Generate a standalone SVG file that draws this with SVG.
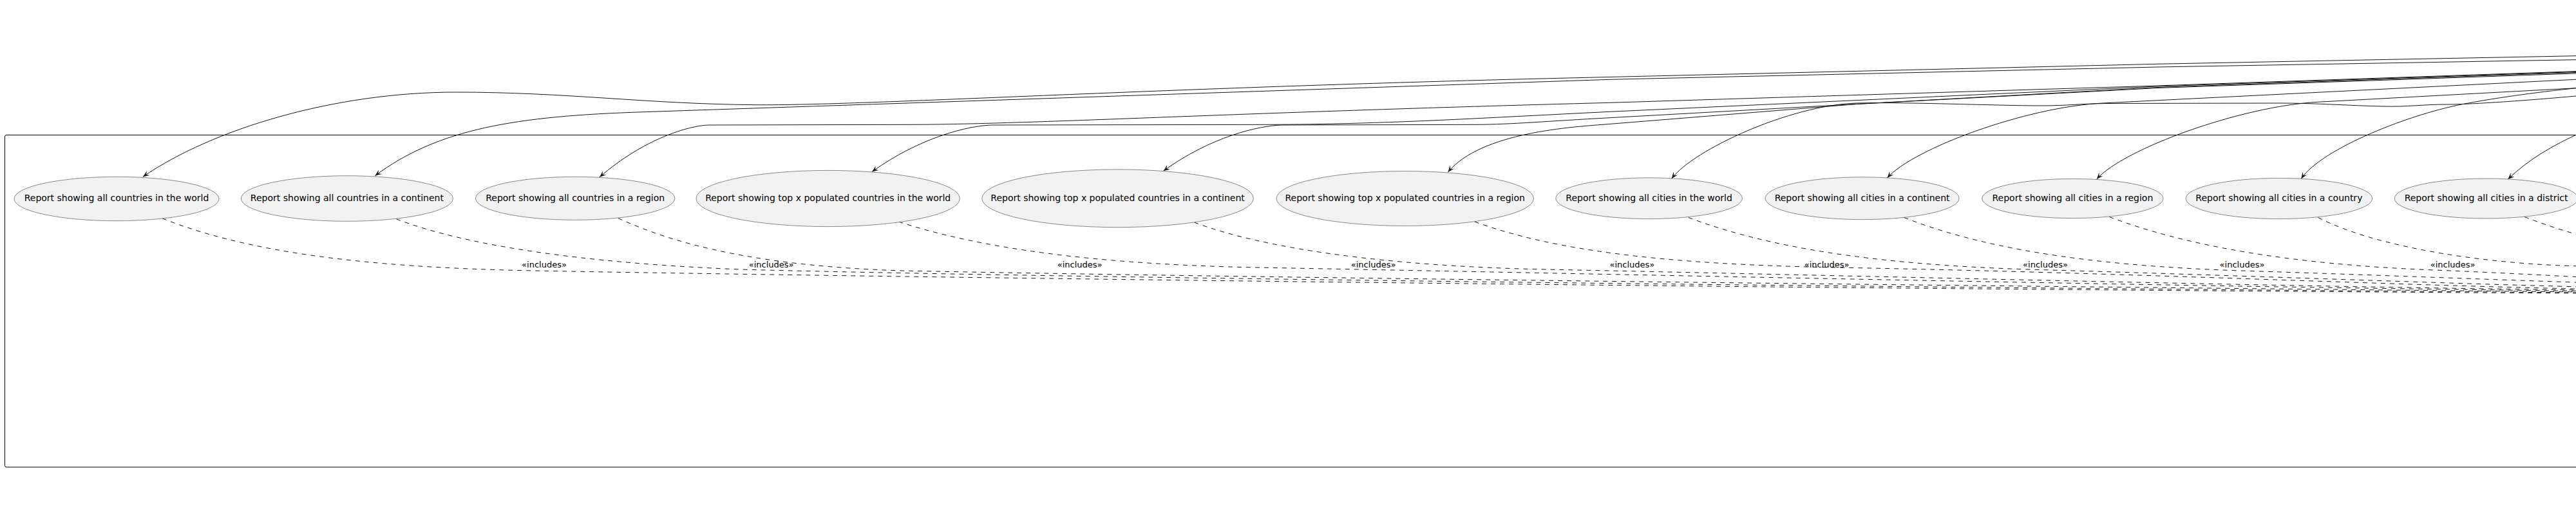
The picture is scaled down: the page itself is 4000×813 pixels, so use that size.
<svg xmlns="http://www.w3.org/2000/svg" width="4000" height="813" viewBox="0 0 4000 813">
<style>
.uc{fill:#F1F1F1;stroke:#181818;stroke-width:0.5}
.ut{font-family:"DejaVu Sans","Liberation Sans",sans-serif;font-size:14px;fill:#000000;text-anchor:middle}
.lb{font-family:"DejaVu Sans","Liberation Sans",sans-serif;font-size:13px;fill:#000000;text-anchor:middle}
.as{fill:none;stroke:#181818;stroke-width:1;marker-end:url(#ah)}
.inc{fill:none;stroke:#181818;stroke-width:1;stroke-dasharray:7,7}
.frame{fill:none;stroke:#000000;stroke-width:1}
</style>
<defs>
<marker id="ah" markerUnits="userSpaceOnUse" viewBox="-11 -5 12 10" refX="0" refY="0" markerWidth="12" markerHeight="10" orient="auto">
<path d="M0,0 L-10,-4 L-6,0 L-10,4 Z" fill="#181818"/>
</marker>
</defs>
<rect id="system" class="frame" x="7.5" y="209.5" width="4100" height="515.3" rx="2.5" ry="2.5"/>
<g id="connectors">
<path class="as" d="M4005,86.6 L3350,99.3 L2500,119.5 C1800,135 1350,164 1172,162.7 C1000,161 880,143 708,143 C520,143 330,200 222,274.3"/>
<path class="as" d="M4005,92.6 L3350,104 L2500,123.3 L1000,173.7 C800,180 680,200 582.3,272.7"/>
<path class="as" d="M4005,110.5 L3350,133 L2500,159.3 C1900,175 1600,193 1411,193.3 L1100,194 C1070,195 1000,215 931,274.8"/>
<path class="as" d="M4005,111.3 L3350,134 L2500,173.3 C2300,183 2150,193 1966,193.3 L1540,194 C1505,195 1430,212 1354,266.5"/>
<path class="as" d="M4005,112.3 L3350,135.5 L2500,182.7 C2400,188 2350,193 2291,193.3 L1990,194 C1955,195 1880,212 1806.5,265.3"/>
<path class="as" d="M4005,113.8 L3350,136.5 L2883,161.5 L2500,192.4 C2440,197 2300,205 2248.4,267"/>
<path class="as" d="M4005,148.6 C3900,158 3830,162 3800,162 C3760,162 3740,166 3700,165 C3650,164 3600,160 3540,160 L3270,160.5 C3230,161 3210,164 3170,164 C3100,164 2960,158 2883,160 C2780,163 2630,232 2595.7,277"/>
<path class="as" d="M4005,123 L3265,160 C3145,166 2970.5,231 2930.5,276"/>
<path class="as" d="M4005,136.4 L3599,158.3 C3480,164.7 3297,231 3255.8,278"/>
<path class="as" d="M4005,136.2 C3930,144 3870,153 3833,160 C3745,175 3604,231 3573.3,277.3"/>
<path class="as" d="M4006,206.5 C3965,225 3925,248 3894.3,278.2"/>
<path class="inc" d="M252,338.8 C380,390 560,415 829,420 C1200,427 2600,447 4010,455"/>
<path class="inc" d="M615.4,339.8 C720,380 900,408 1150,418 C1600,430 2800,445 4010,454"/>
<path class="inc" d="M959.8,338.5 C1050,380 1180,413 1400,420 C1900,430 2900,442 4010,453"/>
<path class="inc" d="M1395.4,344 C1520,385 1700,410 1950,415 C2500,425 3400,445 4010,451.5"/>
<path class="inc" d="M1854.6,345 C1960,385 2150,413 2400,418 C2900,428 3500,444 4010,450"/>
<path class="inc" d="M2290,344 C2410,388 2580,410 2850,415 C3300,423 3700,442 4010,448.3"/>
<path class="inc" d="M2621.8,337.5 C2740,382 2900,410 3150,418 C3500,428 3800,440 4010,445"/>
<path class="inc" d="M2956.6,337.5 C3070,382 3230,412 3480,420 C3700,427 3900,435 4010,438.3"/>
<path class="inc" d="M3275.5,336.5 C3390,380 3550,410 3780,419 C3880,423 3950,427 4010,430"/>
<path class="inc" d="M3599.5,337.5 C3690,384 3860,410 4010,413"/>
<path class="inc" d="M3920,336.5 C3950,348 3980,358 4010,366"/>
<text class="lb" x="845" y="415">«includes»</text>
<text class="lb" x="1197.7" y="415">«includes»</text>
<text class="lb" x="1676.7" y="415">«includes»</text>
<text class="lb" x="2132.7" y="415">«includes»</text>
<text class="lb" x="2534.4" y="415">«includes»</text>
<text class="lb" x="2836.7" y="415">«includes»</text>
<text class="lb" x="3176" y="415">«includes»</text>
<text class="lb" x="3481.5" y="415">«includes»</text>
<text class="lb" x="3808.7" y="415">«includes»</text>
</g>
<g id="uc1"><ellipse class="uc" cx="181" cy="308.5" rx="159" ry="34.2"/><text class="ut" x="181" y="311.5">Report showing all countries in the world</text></g>
<g id="uc2"><ellipse class="uc" cx="538.9" cy="308" rx="164.5" ry="35.3"/><text class="ut" x="538.9" y="311.5">Report showing all countries in a continent</text></g>
<g id="uc3"><ellipse class="uc" cx="893.2" cy="307.8" rx="154.7" ry="33.5"/><text class="ut" x="893.2" y="311.5">Report showing all countries in a region</text></g>
<g id="uc4"><ellipse class="uc" cx="1285.7" cy="308" rx="204.7" ry="43.6"/><text class="ut" x="1285.7" y="311.5">Report showing top x populated countries in the world</text></g>
<g id="uc5"><ellipse class="uc" cx="1735.6" cy="307.8" rx="210.8" ry="44.9"/><text class="ut" x="1735.6" y="311.5">Report showing top x populated countries in a continent</text></g>
<g id="uc6"><ellipse class="uc" cx="2181.7" cy="308" rx="199.7" ry="42.5"/><text class="ut" x="2181.7" y="311.5">Report showing top x populated countries in a region</text></g>
<g id="uc7"><ellipse class="uc" cx="2560.6" cy="307.7" rx="144.8" ry="31.9"/><text class="ut" x="2560.6" y="311.5">Report showing all cities in the world</text></g>
<g id="uc8"><ellipse class="uc" cx="2891.6" cy="307.7" rx="150.5" ry="32.9"/><text class="ut" x="2891.6" y="311.5">Report showing all cities in a continent</text></g>
<g id="uc9"><ellipse class="uc" cx="3218.4" cy="308" rx="140.6" ry="30.6"/><text class="ut" x="3218.4" y="311.5">Report showing all cities in a region</text></g>
<g id="uc10"><ellipse class="uc" cx="3538.9" cy="308" rx="144.8" ry="31.6"/><text class="ut" x="3538.9" y="311.5">Report showing all cities in a country</text></g>
<g id="uc11"><ellipse class="uc" cx="3860.6" cy="308" rx="142.5" ry="31"/><text class="ut" x="3860.6" y="311.5">Report showing all cities in a district</text></g>
</svg>
